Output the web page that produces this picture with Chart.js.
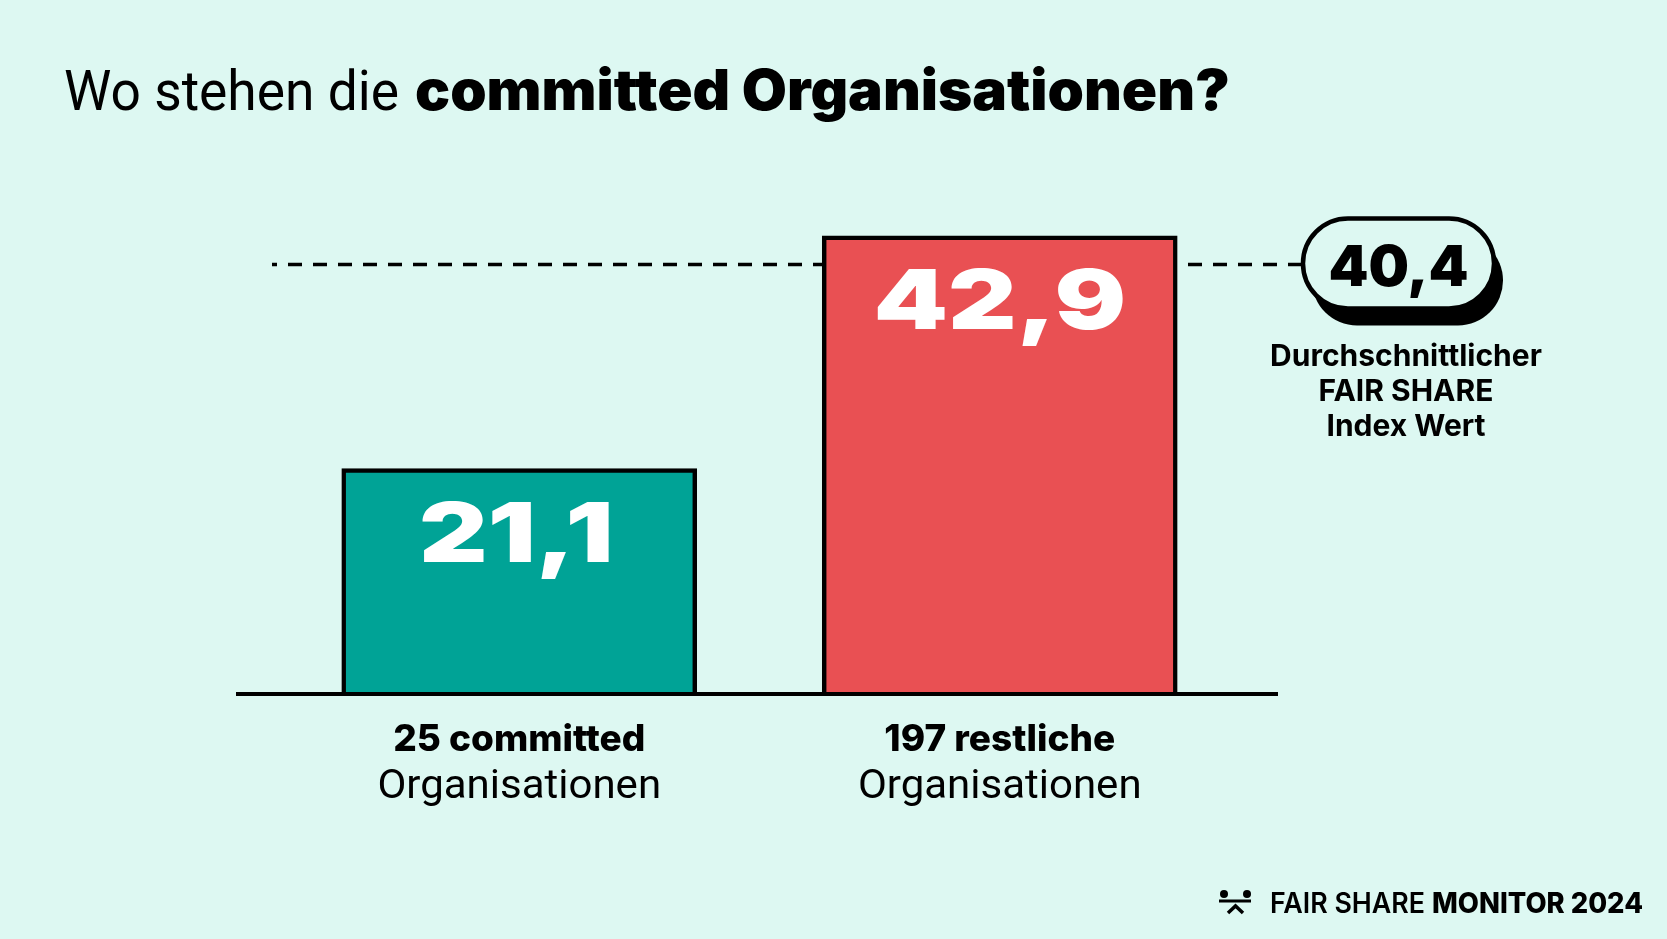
<!DOCTYPE html>
<html>
<head>
<meta charset="utf-8">
<script src="https://cdn.jsdelivr.net/npm/chart.js@4.4.1/dist/chart.umd.min.js"></script>
<style>
  html, body { margin: 0; padding: 0; background: #DDF8F2; }
  #wrap { width: 1667px; height: 939px; }
</style>
</head>
<body>
<div id="wrap"><canvas id="c" width="1667" height="939"></canvas></div>
<script>
// ---- data ----
const categories = ['25 committed', '197 restliche'];
const categorySub = ['Organisationen', 'Organisationen'];
const values = [21.1, 42.9];
const averageValue = 40.4;
const averageCaption = ['Durchschnittlicher', 'FAIR SHARE', 'Index Wert'];
const titleRegular = 'Wo stehen die';
const titleBold = 'committed Organisationen?';
const footerRegular = 'FAIR SHARE';
const footerBold = 'MONITOR 2024';
const barColors = ['#00A396', '#E95053'];

const BG = '#DDF8F2';
const fmt = v => v.toLocaleString('de-DE', { minimumFractionDigits: 1, maximumFractionDigits: 1 });

function fitText(ctx, text, x, y, targetW) {
  const w = ctx.measureText(text).width;
  ctx.save();
  ctx.translate(x, y);
  ctx.scale(targetW / w, 1);
  ctx.fillText(text, 0, 0);
  ctx.restore();
}

const decor = {
  id: 'decor',
  beforeDraw(chart) {
    const ctx = chart.ctx;
    ctx.save();
    ctx.fillStyle = BG;
    ctx.fillRect(0, 0, chart.width, chart.height);
    ctx.restore();
  },
  beforeDatasetsDraw(chart) {
    const ctx = chart.ctx;
    const y = chart.scales.y.getPixelForValue(averageValue) + 2;
    ctx.save();
    ctx.strokeStyle = '#000';
    ctx.lineWidth = 3.5;
    ctx.setLineDash([14, 11]);
    ctx.lineDashOffset = 9;
    ctx.beginPath();
    ctx.moveTo(272, y);
    ctx.lineTo(1305, y);
    ctx.stroke();
    ctx.restore();
  },
  afterDatasetsDraw(chart) {
    const ctx = chart.ctx;
    const xs = chart.scales.x, ys = chart.scales.y;
    const y0 = ys.getPixelForValue(0);
    ctx.save();
    // baseline
    ctx.strokeStyle = '#000';
    ctx.lineWidth = 4;
    ctx.beginPath();
    ctx.moveTo(chart.chartArea.left - 43, y0);
    ctx.lineTo(chart.chartArea.right + 38, y0);
    ctx.stroke();

    // value labels inside bars (wide heavy digits)
    ctx.fillStyle = '#fff';
    ctx.textAlign = 'center';
    ctx.textBaseline = 'alphabetic';
    ctx.font = '900 83px Inter, "Noto Sans", sans-serif';
    values.forEach((v, i) => {
      const x = xs.getPixelForValue(i);
      const top = ys.getPixelForValue(v);
      ctx.save();
      ctx.translate(x - (i === 0 ? 3 : 0), top + 93);
      ctx.scale(1.28, 1);
      ctx.fillText(fmt(v), 0, 0);
      ctx.restore();
    });

    // category labels
    ctx.fillStyle = '#000';
    categories.forEach((c, i) => {
      const x = xs.getPixelForValue(i);
      ctx.font = '800 37px Inter, "Noto Sans", sans-serif';
      ctx.fillText(c, x, y0 + 57, 272);
      ctx.font = '400 40px Roboto, "Noto Sans", sans-serif';
      ctx.save();
      ctx.translate(x, y0 + 104);
      ctx.scale(1.05, 1);
      ctx.fillText(categorySub[i], 0, 0);
      ctx.restore();
    });

    // average pill
    const ay = ys.getPixelForValue(averageValue) + 1;
    const pl = 1303, pw = 191, ph = 90;
    const r = ph / 2;
    const rr = (x, yy, w, h) => {
      ctx.beginPath();
      ctx.roundRect(x, yy, w, h, r);
    };
    ctx.fillStyle = '#000';
    rr(pl + 9, ay - ph / 2 + 17, pw, ph);
    ctx.fill();
    ctx.fillStyle = BG;
    rr(pl, ay - ph / 2, pw, ph);
    ctx.fill();
    ctx.lineWidth = 4.5;
    ctx.strokeStyle = '#000';
    ctx.stroke();
    ctx.fillStyle = '#000';
    ctx.font = '900 57px Inter, "Noto Sans", sans-serif';
    ctx.textAlign = 'center';
    ctx.fillText(fmt(averageValue), pl + pw / 2, ay + 22, 140);

    // caption
    ctx.font = '700 30px Inter, "Noto Sans", sans-serif';
    averageCaption.forEach((t, i) => {
      ctx.fillText(t, 1406, 366 + i * 35, 276);
    });

    // title
    ctx.textAlign = 'left';
    ctx.font = '400 56px Roboto, "Noto Sans", sans-serif';
    fitText(ctx, titleRegular, 64, 110, 335);
    ctx.font = '900 56px Inter, "Noto Sans", sans-serif';
    fitText(ctx, titleBold, 415, 110, 815);

    // footer logo
    ctx.fillStyle = '#000';
    ctx.beginPath(); ctx.arc(1224, 894, 4, 0, Math.PI * 2); ctx.fill();
    ctx.beginPath(); ctx.arc(1247, 894, 4, 0, Math.PI * 2); ctx.fill();
    ctx.fillRect(1219, 899.5, 32, 3);
    ctx.lineWidth = 3.5;
    ctx.setLineDash([]);
    ctx.beginPath();
    ctx.moveTo(1228, 913); ctx.lineTo(1235.5, 906); ctx.lineTo(1243, 913);
    ctx.stroke();

    // footer text
    ctx.font = '600 28px Inter, "Noto Sans", sans-serif';
    fitText(ctx, footerRegular, 1270, 913, 155);
    ctx.font = '800 28px Inter, "Noto Sans", sans-serif';
    fitText(ctx, footerBold, 1432, 913, 211);
    ctx.restore();
  }
};

new Chart(document.getElementById('c'), {
  type: 'bar',
  data: {
    labels: categories,
    datasets: [{
      data: values,
      backgroundColor: barColors,
      borderColor: '#000',
      borderWidth: 4.5,
      barThickness: 355
    }]
  },
  options: {
    responsive: false,
    animation: false,
    devicePixelRatio: 1,
    layout: { padding: { top: 160, bottom: 245, left: 279, right: 427 } },
    plugins: { legend: { display: false }, tooltip: { enabled: false }, title: { display: false } },
    scales: {
      x: { display: false },
      y: { display: false, min: 0, max: 50 }
    }
  },
  plugins: [decor]
});
</script>
</body>
</html>
